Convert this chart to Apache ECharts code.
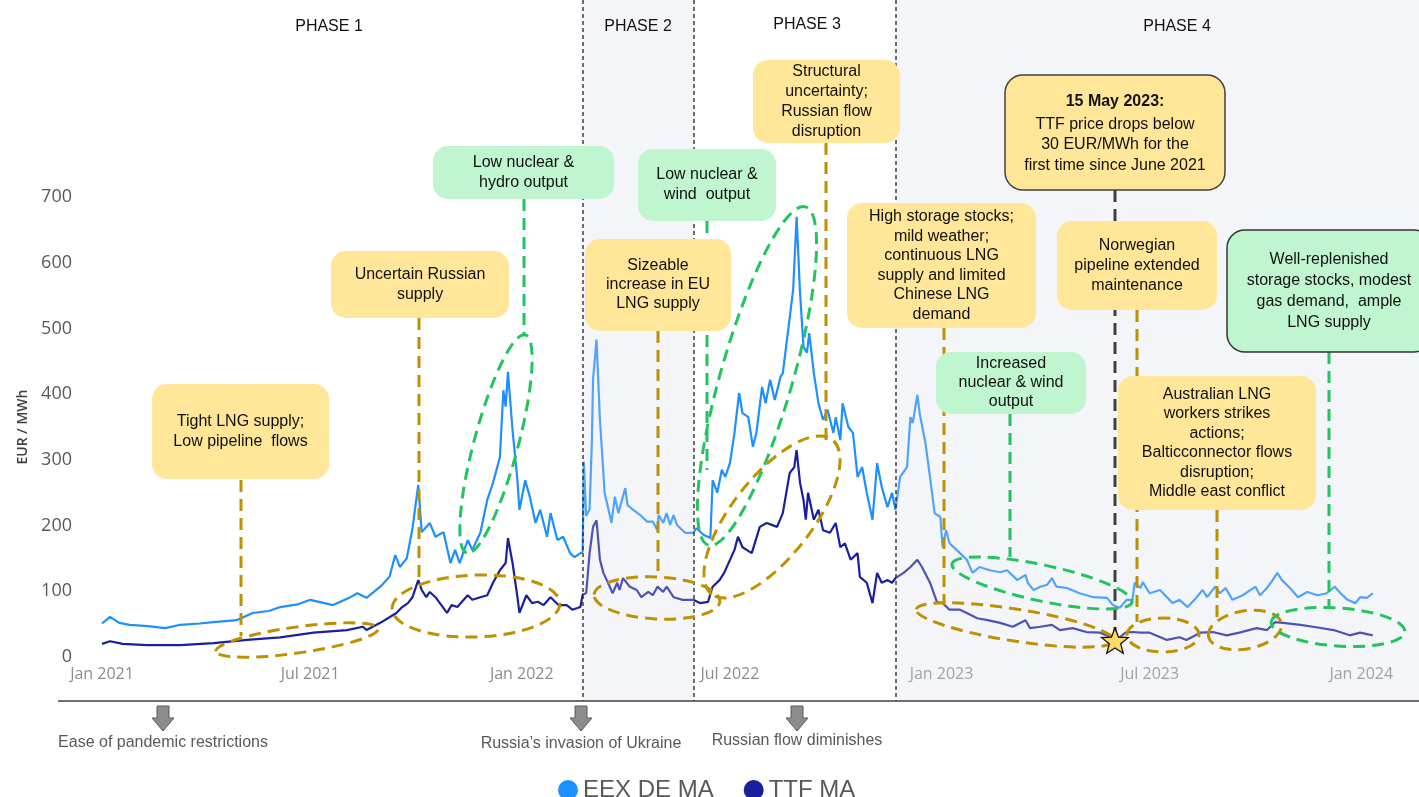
<!DOCTYPE html>
<html>
<head>
<meta charset="utf-8">
<script src="https://cdn.jsdelivr.net/npm/echarts@6/dist/echarts.min.js"></script>
<style>
html,body{margin:0;padding:0;background:#fff;}
#chart{width:1419px;height:797px;}
</style>
</head>
<body>
<div id="chart"></div>
<script>
// ---- data: day offsets from 2021-01-01, values in EUR/MWh ----
const xTickDays = [0, 181, 365, 546, 730, 911, 1095];
const xTickLabels = ['Jan 2021', 'Jul 2021', 'Jan 2022', 'Jul 2022', 'Jan 2023', 'Jul 2023', 'Jan 2024'];
const yTicks = [0, 100, 200, 300, 400, 500, 600, 700];
const seriesNames = ['EEX DE MA', 'TTF MA'];

const eexDays = [0,7,15,24,40,55,68,85,97,117,131,145,155,170,181,201,215,222,230,242,250,255,259,265,270,275,278,285,290,297,303,307,311,318,322,329,335,340,346,349,351,353,357,361,363,368,372,377,381,387,390,396,401,407,411,416,418,419,421,424,426,427,430,433,436,437,440,443,446,449,455,457,462,468,474,479,483,484,488,491,494,497,500,507,514,517,523,529,531,535,539,542,546,550,554,557,562,566,569,574,577,581,585,590,592,597,601,604,607,610,613,615,619,623,627,631,636,638,642,644,649,653,657,661,665,670,674,678,683,687,690,694,700,703,705,709,711,716,720,724,729,731,734,737,746,752,757,763,772,781,787,796,803,805,810,816,822,826,830,839,850,862,874,879,885,891,896,898,903,905,911,920,931,937,944,950,957,961,968,972,977,983,992,1003,1007,1013,1018,1022,1026,1033,1040,1048,1057,1065,1072,1077,1083,1090,1094,1100,1105];
const eexValues = [51,61,52,49,47,44,49,51,53,56,67,70,76,80,87,79,90,97,90,107,122,155,137,150,196,262,190,204,183,190,143,163,143,178,163,189,239,265,304,406,381,434,345,274,224,269,244,204,224,183,219,178,183,158,152,158,160,297,215,225,330,422,483,361,280,250,228,204,244,219,257,231,224,216,206,206,193,216,204,219,201,216,201,189,189,196,186,181,269,250,285,274,295,341,402,371,365,320,341,411,386,422,391,426,432,502,559,670,554,472,463,493,432,386,361,376,341,365,330,386,350,341,274,289,250,209,295,259,228,250,224,274,289,365,356,399,371,326,274,219,213,167,193,173,158,148,128,137,132,129,132,117,125,113,102,107,110,120,107,105,97,91,90,79,75,87,87,113,105,114,97,102,82,87,76,87,102,91,107,97,105,87,94,107,94,105,117,128,117,105,91,99,94,97,107,97,87,82,91,90,97];

const ttfDays = [0,7,18,39,68,97,126,155,184,213,227,230,242,256,261,266,270,275,278,282,285,290,300,304,309,318,322,329,335,340,346,351,353,357,361,363,369,374,379,384,390,397,404,409,416,418,421,424,427,430,433,436,440,444,448,450,453,459,465,469,475,479,483,488,491,497,505,514,520,527,531,537,541,550,553,557,565,572,578,587,592,598,602,604,607,610,612,614,619,623,627,633,638,642,646,651,657,659,665,670,674,678,683,687,690,697,703,709,713,720,726,731,737,746,752,761,770,781,792,803,807,816,826,833,844,856,868,879,883,890,896,903,911,926,937,943,955,966,978,989,1004,1013,1020,1027,1042,1053,1071,1085,1094,1105];
const ttfValues = [20,24,20,18,18,21,26,30,37,41,46,41,52,67,76,82,91,117,102,91,99,91,67,79,76,94,87,91,94,113,132,143,181,143,94,67,94,82,84,79,91,79,79,72,76,95,97,158,198,208,148,128,113,97,113,102,120,107,102,91,99,94,107,99,107,91,87,87,82,84,107,117,128,163,183,167,158,198,204,198,219,280,289,315,265,239,209,250,209,224,193,189,204,167,173,148,158,122,113,82,128,113,117,113,120,128,137,148,137,113,84,82,72,72,67,59,56,52,46,56,44,46,49,41,44,38,37,29,27,37,38,37,37,26,30,26,37,38,33,37,44,41,53,52,49,46,41,33,37,33];

const phaseLabels = ['PHASE 1', 'PHASE 2', 'PHASE 3', 'PHASE 4'];
const eventLabels = ['Ease of pandemic restrictions', 'Russia\u2019s invasion of Ukraine', 'Russian flow diminishes'];

// ---- styles ----
const GOLD = '#bf9000', GREEN = '#22c460', YEL = '#ffe699', GRN = '#bff5cf';
const BOXFONT = '16px "Liberation Sans", Arial, sans-serif';

const chart = echarts.init(document.getElementById('chart'), null, {renderer: 'canvas'});

const els = [];
// phase shading (translucent overlay, slightly mutes the lines like the reference)
els.push({type:'rect', z:4, shape:{x:583,y:0,width:111,height:701}, style:{fill:'rgba(214,219,232,0.28)'}, silent:true});
els.push({type:'rect', z:4, shape:{x:896,y:0,width:523,height:701}, style:{fill:'rgba(214,219,232,0.28)'}, silent:true});
// phase separators
[583, 694, 896].forEach(x => els.push({type:'line', z:5, shape:{x1:x,y1:0,x2:x,y2:701}, style:{stroke:'#222', lineWidth:1.3, lineDash:[4,3]}}));
// baseline
els.push({type:'line', z:5, shape:{x1:58,y1:701,x2:1419,y2:701}, style:{stroke:'#404040', lineWidth:1.5}});
// phase labels
[[329,27],[638,27],[807,25],[1177,27]].forEach((p,i) => els.push({type:'text', z:20, x:p[0], y:p[1], style:{text:phaseLabels[i], font:'16px "Liberation Sans", Arial, sans-serif', fill:'#111', align:'center', verticalAlign:'middle'}}));
// bottom arrows and event labels
[[163,743],[581,744],[797,741]].forEach((p,i) => {
  const cx = p[0];
  els.push({type:'polygon', z:5, shape:{points:[[cx-6,706],[cx+6,706],[cx+6,718],[cx+11,718],[cx,731],[cx-11,718],[cx-6,718]]}, style:{fill:'#8c8c8c', stroke:'#5a5a5a', lineWidth:1}});
  els.push({type:'text', z:5, x:cx, y:p[1], style:{text:eventLabels[i], font:'16px "Liberation Sans Narrow", "Arial Narrow", sans-serif', fill:'#595959', align:'center', verticalAlign:'middle'}});
});

function vline(x, y1, y2, color) {
  els.push({type:'line', z:8, shape:{x1:x,y1:y1,x2:x,y2:y2}, style:{stroke:color, lineWidth:3, lineDash:[12,7]}});
}
function ell(cx, cy, rx, ry, deg, color) {
  els.push({type:'ellipse', z:8, x:cx, y:cy, rotation:deg*Math.PI/180, shape:{cx:0,cy:0,rx:rx,ry:ry}, style:{fill:null, stroke:color, lineWidth:3, lineDash:[12,7]}});
}
function box(x, y, w, h, fill, text, lh, border) {
  els.push({type:'rect', z:12, shape:{x:x,y:y,width:w,height:h,r:15}, style:{fill:fill, stroke:border||null, lineWidth:border?1.5:0}});
  els.push({type:'text', z:13, x:x+w/2, y:y+h/2, style:{text:text, font:BOXFONT, fill:'#111', align:'center', verticalAlign:'middle', lineHeight:lh||20}});
}

// connectors
vline(241, 480, 636, GOLD);
vline(419, 318, 585, GOLD);
vline(524, 199, 335, GREEN);
vline(658, 331, 578, GOLD);
vline(707, 221, 470, GREEN);
vline(826, 143, 445, GOLD);
vline(944, 328, 605, GOLD);
vline(1010, 414, 557, GREEN);
els.push({type:'line', z:8, shape:{x1:1115,y1:190,x2:1115,y2:632}, style:{stroke:'#404040', lineWidth:3, lineDash:[12,7]}});
vline(1137, 310, 622, GOLD);
vline(1217, 510, 617, GOLD);
vline(1329, 352, 607, GREEN);

// ellipses
ell(297, 640, 82, 13, 8, GOLD);
ell(476, 606, 84, 31, 2, GOLD);
ell(496, 444, 113, 22, 75, GREEN);
ell(657, 598, 63, 21, -3, GOLD);
ell(757, 376, 176, 36, 74, GREEN);
ell(772, 517, 98, 40, 52, GOLD);
ell(1015, 625, 100, 16, -9, GOLD);
ell(1042, 583, 92, 18, -12, GREEN);
ell(1163, 635, 36, 17, 0, GOLD);
ell(1245, 630, 37, 19, 10, GOLD);
ell(1338, 627, 67, 19, -4, GREEN);

// star
(function(){
  const cx = 1115, cy = 642, R = 14, r = 6;
  const pts = [];
  for (let i = 0; i < 10; i++) {
    const a = -Math.PI/2 + i*Math.PI/5;
    const rr = i % 2 === 0 ? R : r;
    pts.push([cx + rr*Math.cos(a), cy + rr*Math.sin(a)]);
  }
  els.push({type:'polygon', z:14, shape:{points:pts}, style:{fill:'#ffd966', stroke:'#111', lineWidth:1.3}});
})();

// boxes
box(152, 384, 177, 95, YEL, 'Tight LNG supply;\nLow pipeline  flows');
box(331, 251, 178, 67, YEL, 'Uncertain Russian\nsupply');
box(433, 146, 181, 53, GRN, 'Low nuclear &\nhydro output');
box(585, 239, 146, 92, YEL, 'Sizeable\nincrease in EU\nLNG supply', 19);
box(638, 149, 138, 72, GRN, 'Low nuclear &\nwind  output');
box(753, 60, 147, 83, YEL, 'Structural\nuncertainty;\nRussian flow\ndisruption', 20);
box(847, 203, 189, 125, YEL, 'High storage stocks;\nmild weather;\ncontinuous LNG\nsupply and limited\nChinese LNG\ndemand', 19.6);
box(936, 352, 150, 62, GRN, 'Increased\nnuclear & wind\noutput', 19);
// 15 May box
els.push({type:'rect', z:12, shape:{x:1005,y:75,width:220,height:115,r:18}, style:{fill:YEL, stroke:'#404040', lineWidth:1.5}});
els.push({type:'text', z:13, x:1115, y:102, style:{text:'15 May 2023:', font:'bold 16px "Liberation Sans", Arial, sans-serif', fill:'#111', align:'center', verticalAlign:'middle'}});
els.push({type:'text', z:13, x:1115, y:145, style:{text:'TTF price drops below\n30 EUR/MWh for the\nfirst time since June 2021', font:BOXFONT, fill:'#111', align:'center', verticalAlign:'middle', lineHeight:20.5}});
box(1057, 221, 160, 89, YEL, 'Norwegian\npipeline extended\nmaintenance');
box(1118, 376, 198, 134, YEL, 'Australian LNG\nworkers strikes\nactions;\nBalticconnector flows\ndisruption;\nMiddle east conflict', 19.5);
els.push({type:'rect', z:12, shape:{x:1227,y:230,width:205,height:122,r:18}, style:{fill:GRN, stroke:'#333', lineWidth:1.5}});
els.push({type:'text', z:13, x:1329, y:291, style:{text:'Well-replenished\nstorage stocks, modest\ngas demand,  ample\nLNG supply', font:BOXFONT, fill:'#111', align:'center', verticalAlign:'middle', lineHeight:21}});

const option = {
  animation: false,
  backgroundColor: '#ffffff',
  grid: {left: 102, right: 29, top: 197, bottom: 140, containLabel: false},
  legend: {
    data: seriesNames, left: 553, top: 773, icon: 'circle', itemWidth: 20, itemHeight: 20, itemGap: 30,
    textStyle: {fontSize: 24, lineHeight: 24, color: '#595959', fontFamily: '"Liberation Sans", Arial, sans-serif'}
  },
  xAxis: {
    type: 'value', min: 0, max: 1120,
    axisLine: {show: false}, axisTick: {show: false}, splitLine: {show: false},
    axisLabel: {
      customValues: xTickDays, margin: 9, color: '#8c8c8c', fontSize: 16, fontFamily: '"Open Sans", "Noto Sans", sans-serif',
      formatter: v => { const i = xTickDays.indexOf(v); return i >= 0 ? xTickLabels[i] : ''; }
    }
  },
  yAxis: {
    type: 'value', min: yTicks[0], max: yTicks[yTicks.length-1], interval: 100,
    axisLine: {show: false}, axisTick: {show: false}, splitLine: {show: false},
    axisLabel: {margin: 30, color: '#595959', fontSize: 18, fontFamily: '"Open Sans", "Noto Sans", sans-serif'},
    name: 'EUR / MWh', nameLocation: 'middle', nameRotate: 90, nameGap: 62,
    nameTextStyle: {fontSize: 14, fontWeight: 600, color: '#404040', fontFamily: '"Open Sans", "Noto Sans", sans-serif'}
  },
  series: [
    {name: seriesNames[0], type: 'line', showSymbol: false, z: 3, lineStyle: {width: 2.2, color: '#1e8fff'}, itemStyle: {color: '#1e8fff'},
     data: eexDays.map((d, i) => [d, eexValues[i]])},
    {name: seriesNames[1], type: 'line', showSymbol: false, z: 3, lineStyle: {width: 2.2, color: '#1a1f9e'}, itemStyle: {color: '#1a1f9e'},
     data: ttfDays.map((d, i) => [d, ttfValues[i]])}
  ],
  graphic: {elements: els}
};
chart.setOption(option);
</script>
</body>
</html>
